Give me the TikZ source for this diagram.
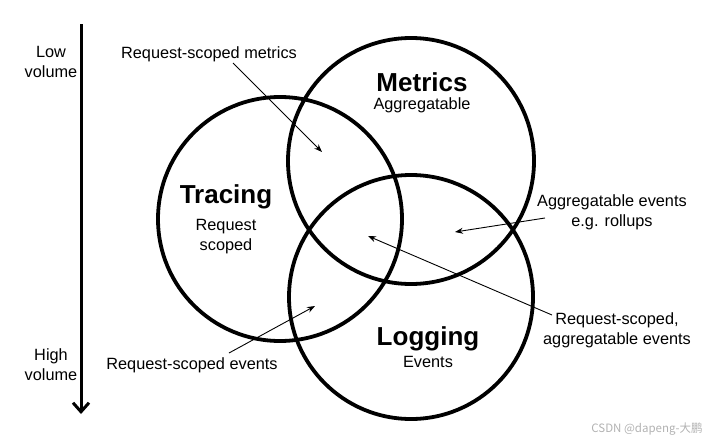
\documentclass[tikz,border=0pt]{standalone}
\usepackage{fontspec}
\setmainfont{Liberation Sans}
\newfontfamily\cjk{Noto Sans CJK SC}
\usetikzlibrary{arrows.meta}
\begin{document}
\begin{tikzpicture}[x=1pt,y=-1pt,
  ring/.style={circle,draw=black,line width=3.8pt,minimum size=#1,inner sep=0pt},
  lbl/.style={font=\fontsize{16.3}{20}\selectfont,align=center,inner sep=1pt},
  title/.style={font=\fontsize{26}{30}\selectfont\bfseries,inner sep=0pt},
  pointer/.style={-{Stealth[length=8pt,width=6pt]},line width=0.9pt},
  ]
\useasboundingbox (0,0) rectangle (720,442);
% circles
\node[ring=244pt] (trc) at (280,219) {};
\node[ring=246pt] (met) at (411,161) {};
\node[ring=244pt] (log) at (411,297) {};
% volume axis
\coordinate (top) at (81,24);
\coordinate (bot) at (81,414);
\draw[line width=3pt,-{Straight Barb[length=9pt,width=16pt,line width=3pt]}] (top) -- (bot);
\node[lbl] (low) at (51,62) {Low\\volume};
\node[lbl] (high) at (51,365) {High\\volume};
% titles
\node[title] (tmet) at (422,82) {Metrics};
\node[lbl] (smet) at (422,105) {Aggregatable};
\node[title] (ttrc) at (226,197) {Tracing};
\node[lbl] (strc) at (226,237) {Request\\scoped};
\node[title] (tlog) at (428,339) {Logging};
\node[lbl] (slog) at (428,362) {Events};
% annotations
\node[lbl] (l1) at (209,54) {Request-scoped metrics};
\coordinate (p1) at (322,152);
\draw[pointer] (233,63) -- (p1);
\node[lbl] (l2) at (612,212) {Aggregatable events\\e.g. rollups};
\coordinate (p2) at (455,232);
\draw[pointer] (545,218) -- (p2);
\node[lbl] (l3) at (617,330) {Request-scoped,\\aggregatable events};
\coordinate (p3) at (368,236);
\draw[pointer] (552,315) -- (p3);
\node[lbl] (l4) at (192,365) {Request-scoped events};
\coordinate (p4) at (315,306);
\draw[pointer] (229,353) -- (p4);
% watermark
\node[font=\cjk\fontsize{11.5}{13}\selectfont,text=black!30,inner sep=0pt] (wm) at (647,429) {CSDN @dapeng-大鹏};
\end{tikzpicture}
\end{document}
